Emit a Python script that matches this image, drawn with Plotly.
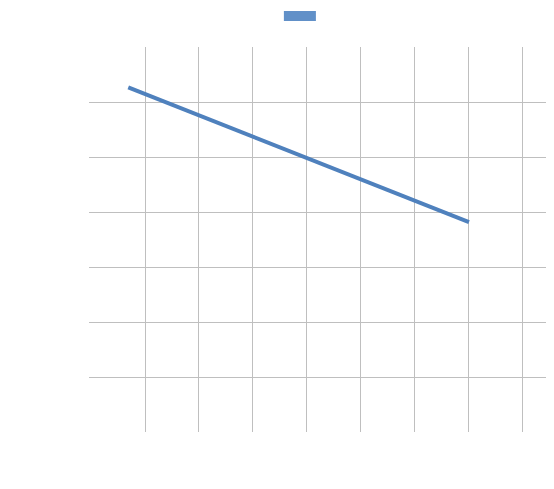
import plotly.graph_objects as go

x_vals = [0.69, 7.0]
y_vals = [6.27, 3.82]
series_name = "Series"

fig = go.Figure()
fig.add_trace(go.Scatter(x=x_vals, y=y_vals, mode="lines", name=series_name, showlegend=False,
                         line=dict(color="#4f81bd", width=4)))
# legend swatch (legend text is white in the reference)
fig.add_shape(type="rect", xref="paper", yref="paper", x0=0.420, x1=0.489, y0=1.0675, y1=1.0935,
              fillcolor="#6190c8", line=dict(width=0))
fig.update_layout(
    width=554, height=489, plot_bgcolor="white", paper_bgcolor="white",
    margin=dict(l=81, r=9, t=39, b=65, autoexpand=False),
    showlegend=False,
    xaxis=dict(range=[-0.037, 8.556], tickvals=[1,2,3,4,5,6,7,8], showgrid=True,
               gridcolor="#bfbfbf", zeroline=False, showline=False, tickfont=dict(color="white")),
    yaxis=dict(range=[0, 7.005], tickvals=[1,2,3,4,5,6,7], showgrid=True, gridcolor="#bfbfbf",
               zeroline=False, showline=False, tickfont=dict(color="white")),
)
fig.write_html("out.html")
